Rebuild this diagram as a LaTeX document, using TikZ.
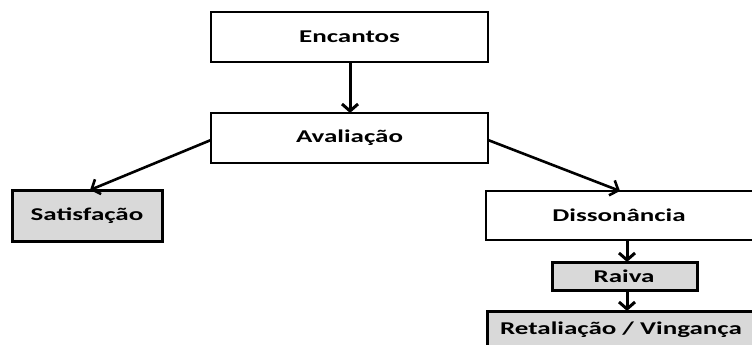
\documentclass[tikz,border=0pt]{standalone}
\usepackage{fontspec}
\setmainfont{Carlito}
\usetikzlibrary{arrows.meta}
\newcommand\wtxt[1]{\scalebox{1.5}[1]{\bfseries\fontsize{18}{20}\selectfont #1}}
\tikzset{
  box/.style={draw=black, line width=2.6pt, fill=white},
  graybox/.style={draw=black, line width=3pt, fill=black!15},
  lbl/.style={inner sep=0pt, anchor=center},
  arr/.style={line width=3pt, -{Straight Barb[length=7pt,width=16pt,line width=3pt]}},
  darr/.style={line width=2.6pt, -{Straight Barb[length=7pt,width=16pt,line width=2.6pt]}},
}
\begin{document}
\begin{tikzpicture}[x=1pt,y=-1pt]
\useasboundingbox (0,0) rectangle (752,345);
\clip (0,0) rectangle (752,345);
% boxes
\draw[box] (211,12) rectangle (488,62);
\node[lbl] (enc) at (349.5,37) {\wtxt{Encantos}};
\coordinate (encB) at (350,62);
\draw[box] (211,113) rectangle (488,163);
\node[lbl] (ava) at (349.5,138) {\wtxt{Avaliação}};
\coordinate (avaT) at (350,113);
\coordinate (avaW) at (211,140);
\coordinate (avaE) at (488,140);
\draw[graybox] (12,190) rectangle (162,241);
\node[lbl] (sat) at (87,215.5) {\wtxt{Satisfação}};
\coordinate (satT) at (90,190);
\draw[box] (486,191) rectangle (770,240);
\node[lbl] (dis) at (619,215.5) {\wtxt{Dissonância}};
\coordinate (disT) at (620,191);
\coordinate (disB) at (627,240);
\draw[graybox] (552,262) rectangle (697,290);
\node[lbl] (rai) at (624,276.5) {\wtxt{Raiva}};
\coordinate (raiT) at (627,262);
\coordinate (raiB) at (627,290);
\draw[graybox] (487,311) rectangle (770,352);
\node[lbl] (ret) at (621,330) {\wtxt{Retaliação / Vingança}};
\coordinate (retT) at (627,311);
% arrows
\draw[arr] (encB) -- (avaT);
\draw[darr] (avaW) -- (satT);
\draw[darr] (avaE) -- (disT);
\draw[arr] (disB) -- (raiT);
\draw[arr] (raiB) -- (retT);
\end{tikzpicture}
\end{document}
